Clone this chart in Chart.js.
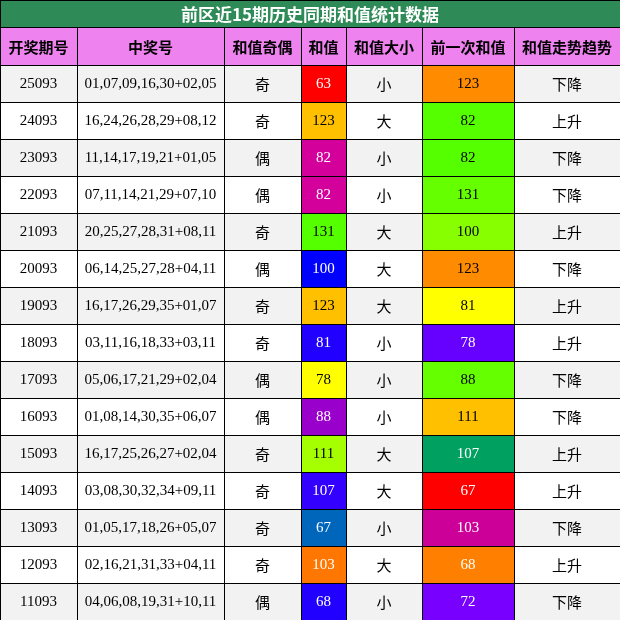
<!DOCTYPE html>
<html>
<head>
<meta charset="utf-8">
<script src="https://cdn.jsdelivr.net/npm/chart.js@4"></script>
<style>
body { margin: 0; background: #fff; }
#wrap { width: 620px; height: 620px; }
</style>
</head>
<body>
<div id="wrap"><canvas id="tbl"></canvas></div>
<script>
var title = "前区近15期历史同期和值统计数据";
var headers = ["开奖期号", "中奖号", "和值奇偶", "和值", "和值大小", "前一次和值", "和值走势趋势"];
var issues = ["25093","24093","23093","22093","21093","20093","19093","18093","17093","16093","15093","14093","13093","12093","11093"];
var numbers = ["01,07,09,16,30+02,05","16,24,26,28,29+08,12","11,14,17,19,21+01,05","07,11,14,21,29+07,10","20,25,27,28,31+08,11","06,14,25,27,28+04,11","16,17,26,29,35+01,07","03,11,16,18,33+03,11","05,06,17,21,29+02,04","01,08,14,30,35+06,07","16,17,25,26,27+02,04","03,08,30,32,34+09,11","01,05,17,18,26+05,07","02,16,21,31,33+04,11","04,06,08,19,31+10,11"];
var oddEven = ["奇","奇","偶","偶","奇","偶","奇","奇","偶","偶","奇","奇","奇","奇","偶"];
var sums = [63,123,82,82,131,100,123,81,78,88,111,107,67,103,68];
var sizes = ["小","大","小","小","大","大","大","小","小","小","大","大","小","大","小"];
var prevSums = [123,82,82,131,100,123,81,78,88,111,107,67,103,68,72];
var trends = ["下降","上升","下降","下降","上升","下降","上升","上升","下降","下降","上升","上升","下降","上升","下降"];
var sumColors = ["#ff0000","#ffc000","#d4009b","#d4009b","#55ff00","#0000ff","#ffc000","#2200ff","#ffff00","#9900cc","#a5ff00","#3300ff","#0066bb","#ff7700","#2200ff"];
var prevColors = ["#ff8c00","#55ff00","#55ff00","#66ff00","#88ff00","#ff8c00","#ffff00","#6600ff","#66ff00","#ffc000","#00a060","#ff0000","#cc0099","#ff8000","#7700ff"];
var lightText = ["#ff0000","#d4009b","#0000ff","#2200ff","#9900cc","#3300ff","#0066bb","#ff7700","#6600ff","#00a060","#cc0099","#ff8000","#7700ff"];

// layout (table units == pixels of the 620 box)
var colEdges = [0, 77, 224, 301, 346, 422, 514, 620];
var titleH = 27, headH = 38, rowH = 37;

var tablePlugin = {
  id: "tablePlugin",
  afterDraw: function (chart) {
    var ctx = chart.ctx, xs = chart.scales.x, ys = chart.scales.y;
    function rect(x0, x1, y0, y1, fill, text, color, font) {
      var px0 = xs.getPixelForValue(x0), px1 = xs.getPixelForValue(x1);
      var py0 = ys.getPixelForValue(y0), py1 = ys.getPixelForValue(y1);
      ctx.fillStyle = fill;
      ctx.fillRect(px0, py0, px1 - px0, py1 - py0);
      ctx.strokeStyle = "#000";
      ctx.lineWidth = 1;
      ctx.strokeRect(Math.round(px0) + 0.5, Math.round(py0) + 0.5, Math.round(px1 - px0), Math.round(py1 - py0));
      ctx.fillStyle = color;
      ctx.font = font;
      ctx.textAlign = "center";
      ctx.textBaseline = "middle";
      ctx.fillText(text, (px0 + px1) / 2, (py0 + py1) / 2 + 1);
    }
    ctx.save();
    rect(0, 620, 0, titleH, "#2e8b57", title, "#fff", "bold 17px 'Noto Sans CJK SC'");
    headers.forEach(function (h, c) {
      rect(colEdges[c], colEdges[c + 1], titleH, titleH + headH, "#ee82ee", h, "#000", "bold 15px 'Noto Sans CJK SC'");
    });
    var serif = "15px 'Liberation Serif'", cjk = "15px 'Noto Sans CJK SC'";
    issues.forEach(function (iss, r) {
      var y0 = titleH + headH + r * rowH, y1 = y0 + rowH;
      var bg = r % 2 === 0 ? "#f2f2f2" : "#ffffff";
      var cells = [
        [iss, bg, "#000", serif],
        [numbers[r], bg, "#000", serif],
        [oddEven[r], bg, "#000", cjk],
        [String(sums[r]), sumColors[r], lightText.indexOf(sumColors[r]) >= 0 ? "#fff" : "#000", serif],
        [sizes[r], bg, "#000", cjk],
        [String(prevSums[r]), prevColors[r], lightText.indexOf(prevColors[r]) >= 0 ? "#fff" : "#000", serif],
        [trends[r], bg, "#000", cjk]
      ];
      cells.forEach(function (cell, c) {
        rect(colEdges[c], colEdges[c + 1], y0, y1, cell[1], cell[0], cell[2], cell[3]);
      });
    });
    ctx.restore();
  }
};

new Chart(document.getElementById("tbl"), {
  type: "scatter",
  data: { datasets: [{ data: [] }] },
  options: {
    responsive: true,
    maintainAspectRatio: false,
    animation: false,
    layout: { padding: 0 },
    plugins: { legend: { display: false }, tooltip: { enabled: false } },
    scales: {
      x: { type: "linear", min: 0, max: 620, display: false },
      y: { type: "linear", min: 0, max: 620, reverse: true, display: false }
    }
  },
  plugins: [tablePlugin]
});
</script>
</body>
</html>
